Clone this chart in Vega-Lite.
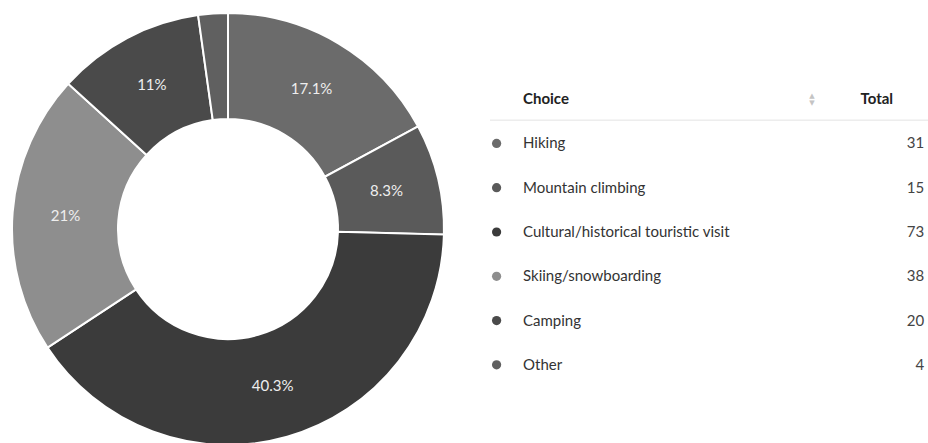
{
  "$schema": "https://vega.github.io/schema/vega-lite/v6.json",
  "padding": 0,
  "spacing": 0,
  "background": "white",
  "config": {"view": {"stroke": null}, "font": "Lato"},
  "datasets": {
    "rows": [
      {"Choice": "Hiking", "Total": 31, "Label": "17.1%", "order": 1},
      {"Choice": "Mountain climbing", "Total": 15, "Label": "8.3%", "order": 2},
      {"Choice": "Cultural/historical touristic visit", "Total": 73, "Label": "40.3%", "order": 3},
      {"Choice": "Skiing/snowboarding", "Total": 38, "Label": "21%", "order": 4},
      {"Choice": "Camping", "Total": 20, "Label": "11%", "order": 5},
      {"Choice": "Other", "Total": 4, "Label": "", "order": 6}
    ],
    "header": [{"Choice": "Choice", "Head": "Total"}]
  },
  "hconcat": [
    {
      "width": 456,
      "height": 443,
      "data": {"name": "rows"},
      "encoding": {
        "theta": {"field": "Total", "type": "quantitative", "stack": true},
        "order": {"field": "order", "type": "quantitative"}
      },
      "layer": [
        {
          "mark": {"type": "arc", "outerRadius": 216, "innerRadius": 110, "stroke": "white", "strokeWidth": 2, "yOffset": 7.5},
          "encoding": {
            "color": {
              "field": "Choice", "type": "nominal", "legend": null,
              "scale": {
                "domain": ["Hiking", "Mountain climbing", "Cultural/historical touristic visit", "Skiing/snowboarding", "Camping", "Other"],
                "range": ["#6b6b6b", "#5a5a5a", "#3b3b3b", "#8e8e8e", "#4a4a4a", "#606060"]
              }
            }
          }
        },
        {
          "mark": {"type": "text", "radius": 163, "yOffset": 7.5, "font": "Lato", "fontSize": 15, "color": "#eeeeee", "align": "center", "baseline": "middle"},
          "encoding": {"text": {"field": "Label"}}
        }
      ]
    },
    {
      "width": 472,
      "height": 443,
      "encoding": {
        "y": {
          "field": "Choice", "type": "nominal", "axis": null,
          "scale": {
            "type": "point", "range": [77, 387],
            "domain": ["Choice", "Hiking", "Mountain climbing", "Cultural/historical touristic visit", "Skiing/snowboarding", "Camping", "Other"]
          }
        }
      },
      "layer": [
        {
          "data": {"name": "header"},
          "mark": {"type": "text", "font": "Lato", "fontSize": 15, "fontWeight": "bold", "color": "#222222", "align": "left", "baseline": "middle"},
          "encoding": {
            "x": {"datum": 14.2, "type": "quantitative", "scale": {"domain": [0, 100]}, "axis": null},
            "text": {"field": "Choice"}
          }
        },
        {
          "data": {"name": "header"},
          "mark": {"type": "text", "font": "Lato", "fontSize": 15, "fontWeight": "bold", "color": "#222222", "align": "right", "baseline": "middle"},
          "encoding": {
            "x": {"datum": 92.6, "type": "quantitative"},
            "text": {"field": "Head"}
          }
        },
        {
          "data": {"name": "header"},
          "mark": {"type": "text", "text": "▲", "font": "DejaVu Sans", "fontSize": 7, "color": "#c4c4c4", "align": "center", "baseline": "middle", "dy": -3.5},
          "encoding": {"x": {"datum": 75.4, "type": "quantitative"}}
        },
        {
          "data": {"name": "header"},
          "mark": {"type": "text", "text": "▼", "font": "DejaVu Sans", "fontSize": 7, "color": "#c4c4c4", "align": "center", "baseline": "middle", "dy": 3.5},
          "encoding": {"x": {"datum": 75.4, "type": "quantitative"}}
        },
        {
          "data": {"name": "header"},
          "mark": {"type": "rule", "color": "#e3e3e3", "strokeWidth": 1, "yOffset": 21},
          "encoding": {
            "x": {"datum": 7.2, "type": "quantitative"},
            "x2": {"datum": 100}
          }
        },
        {
          "data": {"name": "rows"},
          "mark": {"type": "point", "filled": true, "opacity": 1, "size": 85},
          "encoding": {
            "x": {"datum": 8.6, "type": "quantitative"},
            "color": {"field": "Choice", "type": "nominal", "legend": null}
          }
        },
        {
          "data": {"name": "rows"},
          "mark": {"type": "text", "font": "Lato", "fontSize": 15, "color": "#333333", "align": "left", "baseline": "middle"},
          "encoding": {
            "x": {"datum": 14.2, "type": "quantitative"},
            "text": {"field": "Choice"}
          }
        },
        {
          "data": {"name": "rows"},
          "mark": {"type": "text", "font": "Lato", "fontSize": 15, "color": "#444444", "align": "right", "baseline": "middle"},
          "encoding": {
            "x": {"datum": 99.2, "type": "quantitative"},
            "text": {"field": "Total", "type": "quantitative"}
          }
        }
      ]
    }
  ]
}
